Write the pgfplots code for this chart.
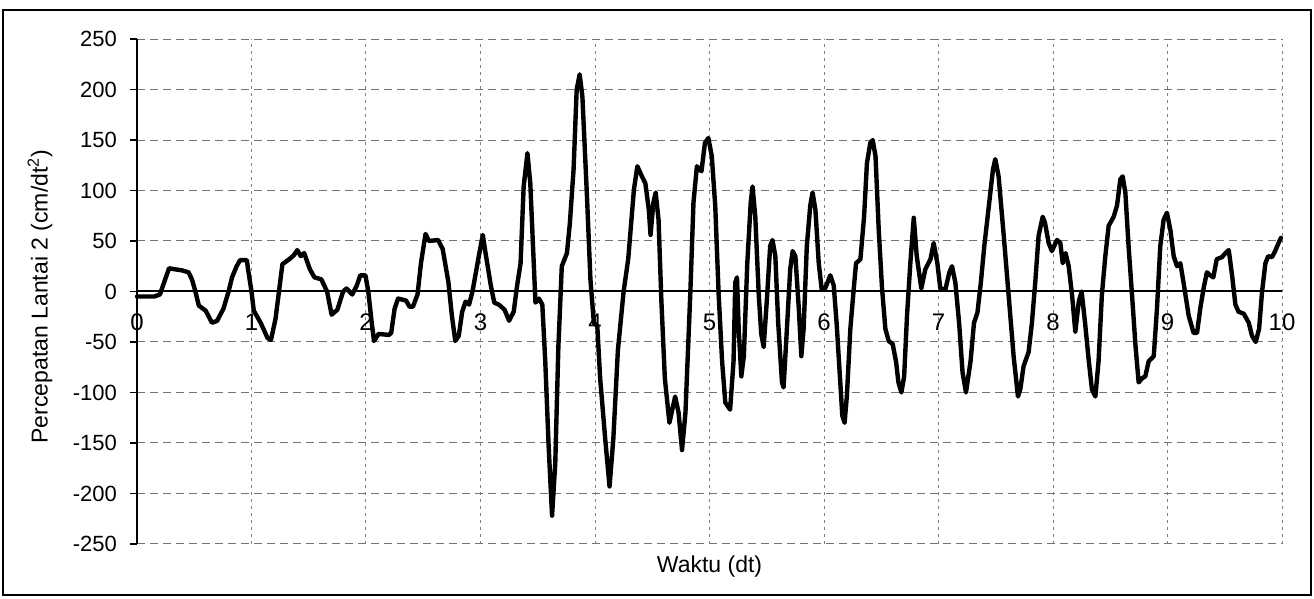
\documentclass[border=0pt]{standalone}
\usepackage{fontspec}
\setmainfont{Liberation Sans}
\usepackage{pgfplots}
\pgfplotsset{compat=1.18}
\begin{document}
\begin{tikzpicture}[x=1pt,y=1pt]
\path[use as bounding box] (0,0) rectangle (657,299.5);
\draw[line width=1pt] (1.5,2) rectangle (655.5,294.5);
\begin{axis}[
  at={(68.5pt,27.5pt)}, anchor=south west,
  scale only axis, width=572.5pt, height=252.5pt,
  xmin=0, xmax=10, ymin=-250, ymax=250,
  axis x line=middle, axis y line=left,
  axis line style={-, line width=1pt, black},
  hide obscured x ticks=false, hide obscured y ticks=false,
  xtick={0,1,...,10},
  xticklabels={0,1,2,3,4,5,6,7,8,9,10},
  ytick={-250,-200,-150,-100,-50,0,50,100,150,200,250},
  yticklabels={-250,-200,-150,-100,-50,0,50,100,150,200,250},
  xtick style={draw=none},
  ytick style={black, line width=0.8pt},
  ytick align=outside,
  major tick length=3.5pt,
  tick label style={font=\fontsize{11}{13}\selectfont},
  xticklabel style={anchor=north, yshift=-6pt, font=\fontsize{12}{14}\selectfont},
  yticklabel style={anchor=east, xshift=-3pt},
  grid=major,
  x grid style={black!50, dash pattern=on 1.5pt off 2pt, line width=0.5pt},
  y grid style={black!55, dash pattern=on 4pt off 2.5pt, line width=0.5pt},
  xlabel={Waktu (dt)},
  ylabel={Percepatan Lantai 2 (cm/dt\textsuperscript{2})},
  label style={font=\fontsize{11.5}{14}\selectfont},
  xlabel style={at={(axis description cs:0.5,-0.044)}, anchor=center},
  ylabel style={at={(axis description cs:-0.0847,0.49)}, anchor=center, rotate=0},
  clip=false,
]
\addplot[black, line width=2.2pt, line join=round, line cap=round] coordinates {
(0.00,-5)(0.05,-5)(0.10,-5)(0.15,-5)(0.20,-3)(0.24,10)(0.28,23)(0.33,22)(0.39,21)(0.45,19)
(0.48,12)(0.51,0)(0.54,-14)(0.60,-19)(0.655,-31)(0.70,-29)(0.755,-17)(0.80,0)(0.83,14)(0.87,25)
(0.90,31)(0.96,31)(0.97,22)(1.00,0)(1.02,-19)(1.08,-31)(1.14,-46)(1.17,-48)(1.21,-27)(1.24,0)
(1.27,27)(1.33,32)(1.37,36)(1.40,41)(1.43,35)(1.46,38)(1.51,22)(1.55,14)(1.61,12)(1.66,0)
(1.70,-23)(1.75,-18)(1.80,0)(1.83,3)(1.88,-3)(1.92,6)(1.95,16)(1.995,16)(2.02,0)(2.05,-31)
(2.07,-49)(2.11,-42)(2.20,-43)(2.22,-41)(2.25,-17)(2.28,-7)(2.35,-9)(2.38,-15)(2.41,-15)(2.45,-3)
(2.48,28)(2.52,57)(2.55,50)(2.63,51)(2.67,42)(2.72,9)(2.75,-24)(2.78,-49)(2.81,-44)(2.84,-20)
(2.87,-10)(2.90,-13)(2.93,0)(2.96,19)(2.99,38)(3.02,56)(3.04,41)(3.09,6)(3.12,-11)(3.16,-13)
(3.21,-18)(3.25,-29)(3.29,-20)(3.32,6)(3.35,28)(3.377,104)(3.41,137)(3.435,107)(3.465,28)(3.48,-11)
(3.51,-7)(3.54,-13)(3.566,-70)(3.595,-153)(3.625,-222)(3.653,-170)(3.68,-55)(3.71,25)(3.755,38)(3.78,67)
(3.813,121)(3.84,200)(3.866,215)(3.89,193)(3.93,94)(3.96,12)(3.99,-31)(4.02,-34)(4.045,-86)(4.09,-147)
(4.127,-193)(4.16,-146)(4.20,-58)(4.25,0)(4.29,32)(4.34,101)(4.37,124)(4.41,114)(4.44,107)(4.47,81)
(4.485,56)(4.51,88)(4.53,98)(4.555,71)(4.58,-10)(4.61,-86)(4.65,-130)(4.70,-104)(4.73,-120)(4.76,-157)
(4.79,-120)(4.832,-3)(4.86,88)(4.89,124)(4.93,119)(4.96,147)(4.99,152)(5.02,134)(5.05,85)(5.08,-3)
(5.11,-69)(5.138,-110)(5.18,-117)(5.21,-69)(5.225,9)(5.24,14)(5.255,-37)(5.278,-84)(5.30,-64)(5.33,28)
(5.36,88)(5.376,104)(5.40,74)(5.43,-3)(5.452,-42)(5.473,-55)(5.50,-10)(5.53,45)(5.55,51)(5.575,35)
(5.60,-31)(5.633,-90)(5.647,-95)(5.676,-37)(5.705,22)(5.726,40)(5.75,35)(5.78,-17)(5.802,-64)(5.822,-37)
(5.85,45)(5.88,85)(5.90,98)(5.925,81)(5.954,28)(5.98,2)(6.01,3)(6.055,16)(6.085,6)(6.11,-31)
(6.14,-86)(6.16,-123)(6.18,-130)(6.20,-103)(6.23,-37)(6.26,3)(6.28,28)(6.318,32)(6.35,74)(6.375,127)
(6.404,147)(6.425,150)(6.45,134)(6.478,61)(6.507,3)(6.536,-37)(6.565,-49)(6.60,-52)(6.63,-70)(6.65,-90)
(6.676,-100)(6.70,-84)(6.725,-24)(6.754,28)(6.784,73)(6.81,35)(6.85,3)(6.885,22)(6.93,32)(6.958,48)
(6.99,28)(7.016,3)(7.06,2)(7.095,19)(7.118,25)(7.147,9)(7.18,-31)(7.21,-80)(7.24,-100)(7.28,-69)
(7.31,-31)(7.34,-21)(7.37,9)(7.40,45)(7.44,85)(7.476,121)(7.496,131)(7.525,114)(7.57,55)(7.612,-3)
(7.656,-64)(7.694,-104)(7.714,-97)(7.743,-74)(7.787,-60)(7.816,-31)(7.845,9)(7.874,55)(7.91,74)(7.93,68)
(7.962,48)(7.99,40)(8.035,51)(8.064,48)(8.085,28)(8.11,38)(8.137,25)(8.166,-3)(8.195,-40)(8.225,-10)
(8.25,0)(8.28,-31)(8.311,-67)(8.34,-97)(8.37,-104)(8.398,-69)(8.427,-3)(8.457,35)(8.486,65)(8.53,74)
(8.559,85)(8.588,111)(8.608,114)(8.632,98)(8.66,45)(8.69,-3)(8.72,-53)(8.748,-90)(8.777,-86)(8.806,-84)
(8.836,-69)(8.88,-64)(8.908,-17)(8.937,45)(8.966,71)(8.995,78)(9.025,61)(9.054,35)(9.083,25)(9.112,28)
(9.14,9)(9.185,-24)(9.228,-41)(9.258,-41)(9.286,-17)(9.315,3)(9.344,19)(9.373,16)(9.40,14)(9.43,32)
(9.476,34)(9.506,38)(9.535,41)(9.564,16)(9.593,-13)(9.62,-20)(9.666,-22)(9.71,-31)(9.738,-44)(9.77,-50)
(9.80,-37)(9.826,0)(9.855,28)(9.88,35)(9.913,34)(9.94,40)(9.97,48)(9.99,53)
};
\end{axis}
\end{tikzpicture}
\end{document}
